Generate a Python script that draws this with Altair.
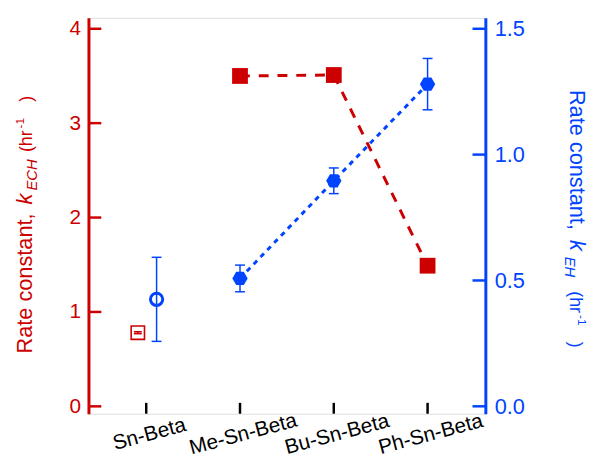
import json
import altair as alt
import pandas as pd

# ---------------- data ----------------
categories = ["Sn-Beta", "Me-Sn-Beta", "Bu-Sn-Beta", "Ph-Sn-Beta"]
positions = [1, 2, 3, 4]
k_ech = [0.78, 3.50, 3.51, 1.49]          # left axis (red)
k_ech_err = [0.01, 0.0, 0.0, 0.0]
k_eh = [0.425, 0.508, 0.896, 1.28]        # right axis (blue)
k_eh_err = [0.167, 0.053, 0.051, 0.102]
left_ticks = [0, 1, 2, 3, 4]
right_ticks = [0.0, 0.5, 1.0, 1.5]
left_title = ["Rate constant, ", "k", "ECH", "(hr", "-1", ")"]
right_title = ["Rate constant, ", "k", "EH", "(hr", "-1", ")"]

RED = "#cc0000"
BLUE = "#0044ff"
FONT = "Liberation Sans"
W, H = 402, 401

df = pd.DataFrame({
    "cat": categories, "pos": positions,
    "ech": k_ech, "ech_err": k_ech_err,
    "eh": k_eh, "eh_err": k_eh_err,
})
df["ech_lo"] = df["ech"] - df["ech_err"]
df["ech_hi"] = df["ech"] + df["ech_err"]
df["eh_lo"] = df["eh"] - df["eh_err"]
df["eh_hi"] = df["eh"] + df["eh_err"]

# ---------------- scales / axes ----------------
x_scale = alt.Scale(domain=[0.3842, 4.616], nice=False, zero=False)
x_axis = alt.Axis(values=positions, labelExpr=json.dumps(categories) + "[datum.value - 1]",
                  ticks=False, domain=False, grid=False, labelAngle=345,
                  labelAlign="center", labelBaseline="top", labelFontSize=21,
                  labelColor="black", labelPadding=10, title=None, labelFont=FONT,
                  labelOverlap=False, labelBound=False, labelFlush=False)

yl_scale = alt.Scale(domain=[-0.078, 4.116], nice=False, zero=False)
yl_axis = alt.Axis(orient="left", values=left_ticks, format="d", ticks=False, tickSize=0,
                   grid=False, domainColor=RED, domainWidth=3, labelColor=RED,
                   labelFontSize=21, labelPadding=8, title=None, labelFont=FONT,
                   labelOverlap=False)
yr_scale = alt.Scale(domain=[-0.0294, 1.5435], nice=False, zero=False)
yr_axis = alt.Axis(orient="right", values=right_ticks, format=".1f", ticks=False, tickSize=0,
                   grid=False, domainColor=BLUE, domainWidth=3, labelColor=BLUE,
                   labelFontSize=22, labelPadding=9, title=None, labelFont=FONT,
                   labelOverlap=False)

X = lambda f: alt.X(f, scale=x_scale, axis=x_axis)
YL = lambda f: alt.Y(f, scale=yl_scale, axis=yl_axis)
YR = lambda f: alt.Y(f, scale=yr_scale, axis=yr_axis)

base = alt.Chart(df)
is_sn = "datum.cat == 'Sn-Beta'"
not_sn = "datum.cat != 'Sn-Beta'"

# ---------------- red (left axis) ----------------
red_line = base.transform_filter(not_sn).mark_line(
    color=RED, strokeWidth=3, strokeDash=[10, 9]).encode(x=X("pos:Q"), y=YL("ech:Q"))
red_err = base.transform_filter(is_sn).mark_rule(color=RED, strokeWidth=1.5, xOffset=-8.5).encode(
    x=X("pos:Q"), y=YL("ech_lo:Q"), y2="ech_hi:Q")
red_cap_lo = base.transform_filter(is_sn).mark_tick(
    color=RED, orient="horizontal", size=8, thickness=1.6, xOffset=-8.5, opacity=1).encode(
    x=X("pos:Q"), y=YL("ech_lo:Q"))
red_cap_hi = base.transform_filter(is_sn).mark_tick(
    color=RED, orient="horizontal", size=8, thickness=1.6, xOffset=-8.5, opacity=1).encode(
    x=X("pos:Q"), y=YL("ech_hi:Q"))
red_open = base.transform_filter(is_sn).mark_point(
    shape="square", size=182, filled=False, color=RED, strokeWidth=1.6, opacity=1,
    xOffset=-8.5).encode(x=X("pos:Q"), y=YL("ech:Q"))
red_filled = base.transform_filter(not_sn).mark_point(
    shape="square", size=256, filled=True, color=RED, opacity=1).encode(
    x=X("pos:Q"), y=YL("ech:Q"))

lt = pd.DataFrame({"v": left_ticks})
left_tick_rules = alt.Chart(lt).mark_rule(color=RED, strokeWidth=2.5).encode(
    x=alt.value(0), x2=alt.value(13), y=YL("v:Q"))

xt = pd.DataFrame({"p": positions})
x_tick_rules = alt.Chart(xt).mark_rule(color="black", strokeWidth=2.5).encode(
    x=X("p:Q"), y=alt.value(H), y2=alt.value(H - 11))


def title_pieces(texts, x0, y0, angle, color, offs):
    layers = []
    sizes = [22, 22, 15, 18, 12, 18]
    styles = ["normal", "italic", "italic", "normal", "normal", "normal"]
    dys = [0, 0, 5, 0, -8, 0]
    for t, s, st, dy, dx in zip(texts, sizes, styles, dys, offs):
        layers.append(
            alt.Chart(alt.Data(values=[{"t": t}])).mark_text(
                angle=angle, align="left", baseline="alphabetic", dx=dx, dy=dy,
                fontSize=s, fontStyle=st, font=FONT, color=color).encode(
                x=alt.value(x0), y=alt.value(y0), text="t:N"))
    return layers


left_texts = title_pieces(left_title, -57.5, 340, 270, RED,
                          [0, 151, 165, 204, 228, 255])
right_texts = title_pieces(right_title, 487.5, 73, 90, BLUE,
                           [0, 152, 169, 204, 228, 255])

left_group = alt.layer(red_line, red_err, red_cap_lo, red_cap_hi, red_open, red_filled,
                       left_tick_rules, x_tick_rules, *left_texts)

# ---------------- blue (right axis) ----------------
blue_line = base.transform_filter(not_sn).mark_line(
    color=BLUE, strokeWidth=3, strokeDash=[5, 5]).encode(x=X("pos:Q"), y=YR("eh:Q"))
blue_err_sn = base.transform_filter(is_sn).mark_rule(color=BLUE, strokeWidth=1.5, xOffset=10.5).encode(
    x=X("pos:Q"), y=YR("eh_lo:Q"), y2="eh_hi:Q")
blue_err = base.transform_filter(not_sn).mark_rule(color=BLUE, strokeWidth=1.5).encode(
    x=X("pos:Q"), y=YR("eh_lo:Q"), y2="eh_hi:Q")
cap_kw = dict(color=BLUE, orient="horizontal", size=10, thickness=1.5, opacity=1)
blue_caps = [
    base.transform_filter(is_sn).mark_tick(xOffset=10.5, **cap_kw).encode(x=X("pos:Q"), y=YR("eh_lo:Q")),
    base.transform_filter(is_sn).mark_tick(xOffset=10.5, **cap_kw).encode(x=X("pos:Q"), y=YR("eh_hi:Q")),
    base.transform_filter(not_sn).mark_tick(**cap_kw).encode(x=X("pos:Q"), y=YR("eh_lo:Q")),
    base.transform_filter(not_sn).mark_tick(**cap_kw).encode(x=X("pos:Q"), y=YR("eh_hi:Q")),
]
blue_open = base.transform_filter(is_sn).mark_point(
    shape="circle", size=154, filled=False, color=BLUE, strokeWidth=3, opacity=1,
    xOffset=10.5).encode(x=X("pos:Q"), y=YR("eh:Q"))
HEX = "M-1,0L-0.5,-0.866L0.5,-0.866L1,0L0.5,0.866L-0.5,0.866Z"
blue_hex = base.transform_filter(not_sn).mark_point(
    shape=HEX, size=240, filled=True, color=BLUE, opacity=1).encode(
    x=X("pos:Q"), y=YR("eh:Q"))

rt = pd.DataFrame({"v": right_ticks})
right_tick_rules = alt.Chart(rt).mark_rule(color=BLUE, strokeWidth=2.5).encode(
    x=alt.value(W - 13), x2=alt.value(W), y=YR("v:Q"))

right_group = alt.layer(blue_line, blue_err_sn, blue_err, *blue_caps, blue_open, blue_hex,
                        right_tick_rules, *right_texts)

chart = alt.layer(left_group, right_group).resolve_scale(y="independent").properties(
    width=W, height=H,
    padding={"left": 81.5, "top": 7, "right": 106, "bottom": 48},
    autosize=alt.AutoSizeParams(type="none"),
).configure_view(stroke="black", strokeWidth=2).configure(font=FONT)

chart.save("out.html", embed_options={"renderer": "svg", "actions": False})
